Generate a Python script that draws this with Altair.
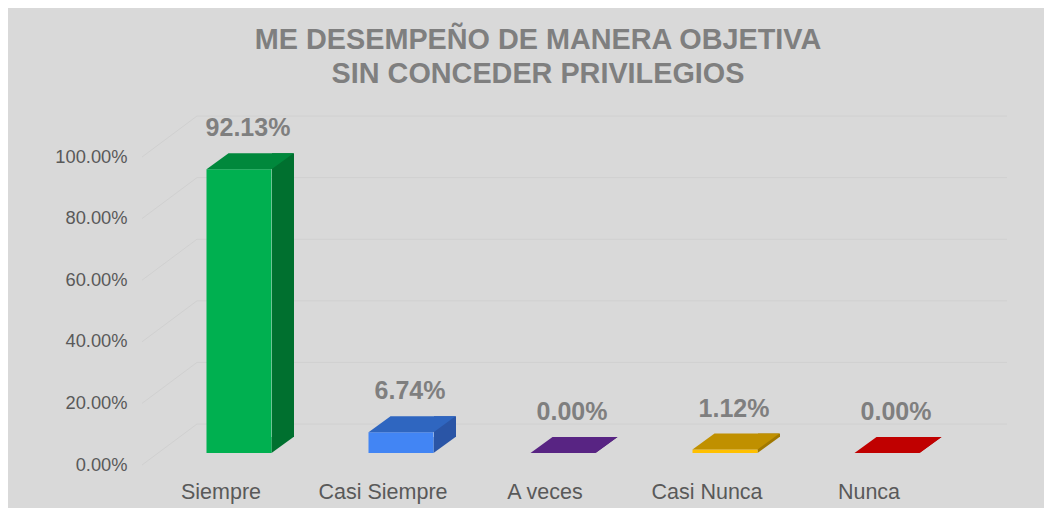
import altair as alt
import pandas as pd

categories = ["Siempre", "Casi Siempre", "A veces", "Casi Nunca", "Nunca"]
values = [0.9213, 0.0674, 0.0, 0.0112, 0.0]
front_colors = ["#00B050", "#4285F4", "#7030A0", "#FFC000", "#FF0000"]
top_colors = ["#00883C", "#2F66C0", "#582483", "#C09000", "#C00000"]
side_colors = ["#00702F", "#2A55A6", "#4A1D6E", "#A07800", "#A00000"]
tick_values = [0.0, 0.2, 0.4, 0.6, 0.8, 1.0]
title_lines = ["ME DESEMPEÑO DE MANERA OBJETIVA", "SIN CONCEDER PRIVILEGIOS"]

FONT = "Liberation Sans"

df = pd.DataFrame({
    "cat": categories,
    "val": values,
    "zero": [0.0] * len(categories),
    "front": front_colors,
    "top": top_colors,
    "side": side_colors,
    "label": [f"{v * 100:.2f}%" for v in values],
})
grid_df = pd.DataFrame({"t": tick_values})

yscale = alt.Scale(domain=[0, 1], nice=False, zero=True)
xscale = alt.Scale(domain=categories, paddingInner=0, paddingOuter=0)

yaxis = alt.Axis(
    values=tick_values, format=".2%", title=None, grid=False, domain=False,
    ticks=False, labelPadding=13, labelFontSize=18.3, labelColor="#595959",
    labelFont=FONT)
xaxis = alt.Axis(
    title=None, labelAngle=0, domain=False, ticks=False, labelPadding=16,
    labelFontSize=21.5, labelColor="#595959", labelFont=FONT)

# back-wall gridlines: slanted part and horizontal part
grid_slant = alt.Chart(grid_df).mark_rule(
    color="#d0d0d0", strokeWidth=1, y2Offset=-41
).encode(
    x=alt.value(2), x2=alt.value(57),
    y=alt.Y("t:Q", scale=yscale, axis=yaxis),
    y2=alt.Y2("t:Q"),
)
grid_flat = alt.Chart(grid_df).mark_rule(
    color="#d0d0d0", strokeWidth=1, yOffset=-41, y2Offset=-41
).encode(
    x=alt.value(57), x2=alt.value(867),
    y=alt.Y("t:Q", scale=yscale, axis=yaxis),
    y2=alt.Y2("t:Q"),
)

base = alt.Chart(df)

xenc = alt.X("cat:N", sort=categories, scale=xscale, axis=xaxis)

side = base.mark_bar(width=22, xOffset=62, yOffset=-28, y2Offset=-28).encode(
    x=xenc,
    y=alt.Y("val:Q", scale=yscale, axis=yaxis),
    y2=alt.Y2("zero:Q"),
    color=alt.Color("side:N", scale=None),
)

bottom_tri = base.mark_point(
    shape="M-11,8 L-11,-8 L11,-8 Z", size=4, filled=True, opacity=1,
    strokeWidth=0, xOffset=61.5, yOffset=-20,
).encode(
    x=xenc,
    y=alt.Y("zero:Q", scale=yscale, axis=yaxis),
    color=alt.Color("side:N", scale=None),
)

front = base.mark_bar(width=65, xOffset=18, yOffset=-12, y2Offset=-12).encode(
    x=xenc,
    y=alt.Y("val:Q", scale=yscale, axis=yaxis),
    y2=alt.Y2("zero:Q"),
    color=alt.Color("front:N", scale=None),
)

top = base.mark_point(
    shape="M-43.5,8 L21.5,8 L43.5,-8 L-21.5,-8 Z", size=4, filled=True,
    opacity=1, strokeWidth=0, xOffset=29, yOffset=-20,
).encode(
    x=xenc,
    y=alt.Y("val:Q", scale=yscale, axis=yaxis),
    color=alt.Color("top:N", scale=None),
)

labels = base.mark_text(
    font=FONT, fontSize=25, fontWeight="bold", color="#7f7f7f",
    dx=27, dy=-53, baseline="middle", align="center",
).encode(
    x=xenc,
    y=alt.Y("val:Q", scale=yscale, axis=yaxis),
    text="label:N",
)

chart = alt.layer(grid_slant, grid_flat, side, bottom_tri, front, top, labels).properties(
    width=810,
    height=308,
    autosize=alt.AutoSizeParams(type="none"),
    padding={"left": 132, "top": 149, "right": 94, "bottom": 43},
    background="#d9d9d9",
    title=alt.TitleParams(
        text=title_lines, font=FONT, fontSize=28.8, fontWeight="bold",
        color="#7f7f7f", lineHeight=34, anchor="middle", frame="group",
        dx=-7, offset=27,
    ),
).configure_view(stroke=None)

chart.save("out.html", embed_options={"renderer": "svg", "actions": False})
